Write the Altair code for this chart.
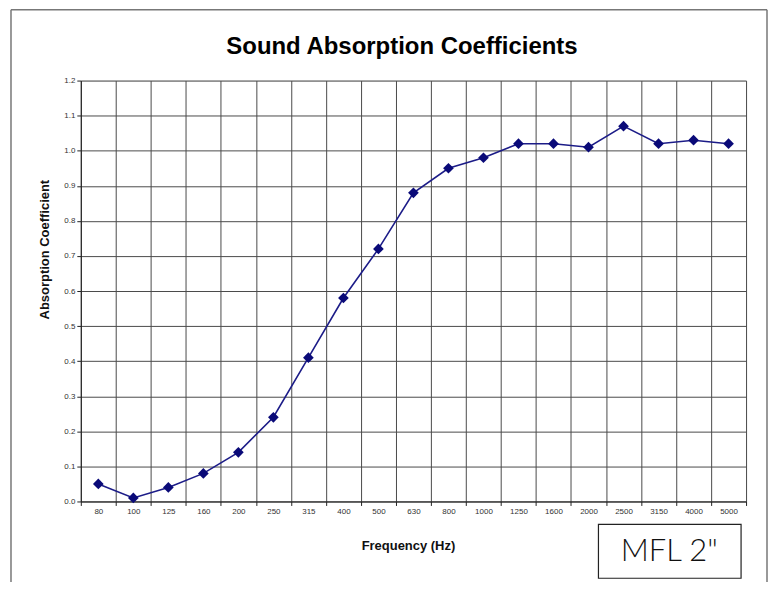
import altair as alt
import pandas as pd

freqs = ["80", "100", "125", "160", "200", "250", "315", "400", "500", "630",
         "800", "1000", "1250", "1600", "2000", "2500", "3150", "4000", "5000"]
coeffs = [0.05, 0.01, 0.04, 0.08, 0.14, 0.24, 0.41, 0.58, 0.72, 0.88,
          0.95, 0.98, 1.02, 1.02, 1.01, 1.07, 1.02, 1.03, 1.02]
y_ticks = [round(i * 0.1, 1) for i in range(13)]

df = pd.DataFrame({"Frequency": freqs, "Coefficient": coeffs})
one = pd.DataFrame({"k": [0]})

W, H = 667, 422
FONT = "Liberation Sans"

x_enc = alt.X(
    "Frequency:O",
    sort=freqs,
    scale=alt.Scale(paddingInner=0, paddingOuter=0),
    axis=alt.Axis(
        title="Frequency (Hz)", titleFont=FONT, titleFontSize=13, titleFontWeight="bold",
        titleColor="#111", titleX=328, titleY=44, titleBaseline="middle",
        labelAngle=0, labelFont=FONT, labelFontSize=8, labelColor="#333", labelPadding=2,
        tickBand="extent", tickSize=4, tickColor="#222", domainColor="#222",
        grid=True, gridColor="#4a4a4a", gridWidth=1,
    ),
)
y_enc = alt.Y(
    "Coefficient:Q",
    scale=alt.Scale(domain=[0, 1.2], nice=False),
    axis=alt.Axis(
        title="Absorption Coefficient", titleFont=FONT, titleFontSize=13, titleFontWeight="bold",
        titleColor="#111", titleX=-36, titleY=169, titleAngle=-90, titleAlign="center",
        titleBaseline="middle",
        values=y_ticks, format=".1f", labelOverlap=False, labelFont=FONT, labelFontSize=8,
        labelColor="#333", labelPadding=2, tickSize=4, tickColor="#222", domainColor="#222",
        grid=True, gridColor="#4a4a4a", gridWidth=1,
    ),
)

base = alt.Chart(df).encode(x=x_enc, y=y_enc)
line = base.mark_line(color="#1c1c88", strokeWidth=1.6)
pts = base.mark_point(shape="diamond", filled=True, size=115, color="#0a0a78", opacity=1)

title_text = alt.Chart(one).mark_text(
    text="Sound Absorption Coefficients", font=FONT, fontSize=24, fontWeight="bold",
    color="#000", align="center", baseline="middle").encode(x=alt.value(322), y=alt.value(-34))

# outer page frame
frame_left = alt.Chart(one).mark_rule(color="#777", strokeWidth=1.5).encode(
    x=alt.value(-70), y=alt.value(-71), y2=alt.value(540))
frame_top = alt.Chart(one).mark_rule(color="#777", strokeWidth=1.5).encode(
    x=alt.value(-70), x2=alt.value(688), y=alt.value(-71))
frame_right = alt.Chart(one).mark_rule(color="#777", strokeWidth=1.5).encode(
    x=alt.value(688), y=alt.value(-71), y2=alt.value(540))

# MFL label box
box = alt.Chart(one).mark_rect(fill="white", stroke="#222", strokeWidth=1.2).encode(
    x=alt.value(519), x2=alt.value(662), y=alt.value(445), y2=alt.value(499))
box_text = alt.Chart(one).mark_text(
    text='MFL 2"', font="Lato", fontWeight=300, fontSize=31, color="#111",
    align="center", baseline="middle").encode(x=alt.value(590), y=alt.value(473))

chart = alt.layer(line, pts, title_text, frame_left, frame_top, frame_right, box, box_text).properties(
    width=W, height=H,
    autosize=alt.AutoSizeParams(type="none"),
    padding={"left": 73, "top": 72, "right": 22, "bottom": 80},
).configure_view(stroke="#222", strokeWidth=1).configure(background="white")

chart.save("out.html", embed_options={"renderer": "svg", "actions": False})
